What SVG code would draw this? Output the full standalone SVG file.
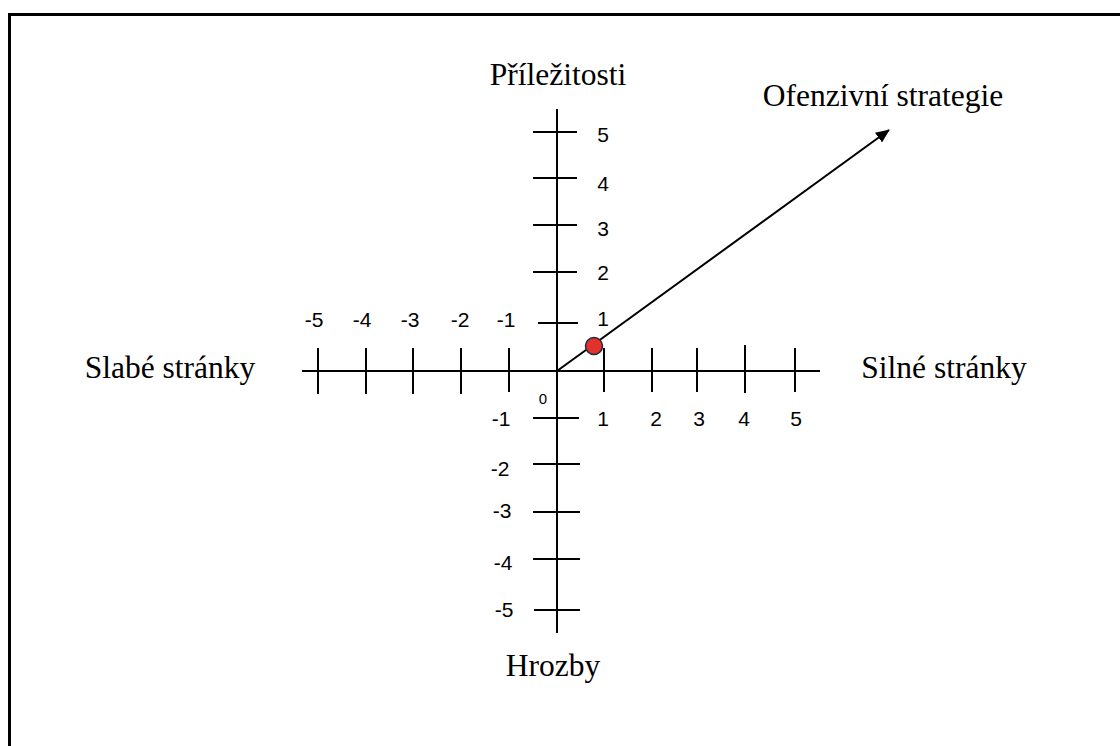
<svg xmlns="http://www.w3.org/2000/svg" width="1120" height="746" viewBox="0 0 1120 746">
<defs>
<style>
.ax{stroke:#000;stroke-width:2;fill:none}
.num{font-family:"Liberation Sans",Arial,sans-serif;font-size:21px;fill:#000;text-anchor:middle}
.lbl{font-family:"Liberation Serif","Times New Roman",serif;font-size:31.5px;fill:#000;text-anchor:middle}
</style>
<marker id="ah" viewBox="0 0 14 12" refX="13" refY="6" markerWidth="14" markerHeight="12" markerUnits="userSpaceOnUse" orient="auto">
<path d="M0,0 L14,6 L0,12 z" fill="#000"/>
</marker>
</defs>
<rect x="0" y="0" width="1120" height="746" fill="#fff"/>
<rect id="frame" x="9.5" y="14.5" width="1200" height="800" fill="none" stroke="#000" stroke-width="3"/>
<g id="axes">
<line class="ax" x1="557" y1="109" x2="557" y2="633"/>
<line class="ax" x1="302" y1="371" x2="820" y2="371"/>
<g id="yticks">
<line class="ax" x1="533" y1="132" x2="577" y2="132"/>
<line class="ax" x1="533" y1="178" x2="577" y2="178"/>
<line class="ax" x1="533" y1="225" x2="577" y2="225"/>
<line class="ax" x1="533" y1="272" x2="577" y2="272"/>
<line class="ax" x1="538" y1="323" x2="578" y2="323"/>
<line class="ax" x1="533" y1="418" x2="579" y2="418"/>
<line class="ax" x1="533" y1="464" x2="580" y2="464"/>
<line class="ax" x1="533" y1="512" x2="580" y2="512"/>
<line class="ax" x1="533" y1="559" x2="580" y2="559"/>
<line class="ax" x1="534" y1="610" x2="580" y2="610"/>
</g>
<g id="xticks">
<line class="ax" x1="318" y1="348" x2="318" y2="394"/>
<line class="ax" x1="366" y1="348" x2="366" y2="394"/>
<line class="ax" x1="413" y1="348" x2="413" y2="394"/>
<line class="ax" x1="461" y1="348" x2="461" y2="394"/>
<line class="ax" x1="509" y1="348" x2="509" y2="392"/>
<line class="ax" x1="604" y1="348" x2="604" y2="392"/>
<line class="ax" x1="652" y1="348" x2="652" y2="392"/>
<line class="ax" x1="697" y1="348" x2="697" y2="392"/>
<line class="ax" x1="745" y1="345" x2="745" y2="393"/>
<line class="ax" x1="795" y1="348" x2="795" y2="392"/>
</g>
</g>
<g id="numbers">
<text class="num" x="603" y="142">5</text>
<text class="num" x="603" y="191">4</text>
<text class="num" x="603" y="236">3</text>
<text class="num" x="603" y="280">2</text>
<text class="num" x="603" y="326">1</text>
<text class="num" x="501" y="426">-1</text>
<text class="num" x="500" y="476">-2</text>
<text class="num" x="502" y="518">-3</text>
<text class="num" x="503" y="570">-4</text>
<text class="num" x="504" y="617">-5</text>
<text class="num" x="314" y="327">-5</text>
<text class="num" x="362" y="327">-4</text>
<text class="num" x="410" y="327">-3</text>
<text class="num" x="460" y="327">-2</text>
<text class="num" x="506" y="327">-1</text>
<text class="num" x="603" y="426">1</text>
<text class="num" x="656" y="426">2</text>
<text class="num" x="699" y="426">3</text>
<text class="num" x="744" y="426">4</text>
<text class="num" x="796" y="426">5</text>
<text class="num" x="543" y="404" style="font-size:15px">0</text>
</g>
<g id="labels">
<text id="prilezitosti" class="lbl" x="558" y="85">Příležitosti</text>
<text id="slabe" class="lbl" x="170" y="378">Slabé stránky</text>
<text id="silne" class="lbl" x="944" y="378">Silné stránky</text>
<text id="hrozby" class="lbl" x="553" y="676">Hrozby</text>
<text id="ofenzivni" class="lbl" x="883" y="106">Ofenzivní strategie</text>
</g>
<g id="connectors">
<line class="ax" x1="557" y1="371" x2="889" y2="130" marker-end="url(#ah)"/>
</g>
<g id="point">
<circle cx="594" cy="346" r="8.5" fill="#e3322b" stroke="#1c2b3a" stroke-width="1.5"/>
</g>
</svg>
